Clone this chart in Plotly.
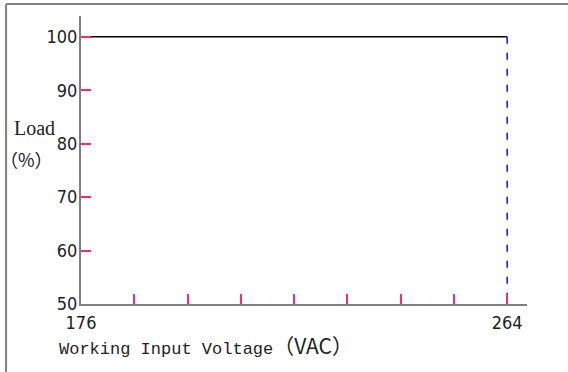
import plotly.graph_objects as go

# Data
voltage = [176, 264]
load = [100, 100]
limit_voltage = [264, 264]
limit_load = [100, 50]
x_tickvals = [176, 187, 198, 209, 220, 231, 242, 253, 264]
x_ticktext = ["176", "", "", "", "", "", "", "", "264"]
y_tickvals = [50, 60, 70, 80, 90, 100]
y_ticktext = ["50", "60", "70", "80", "90", "100"]

tick_font = dict(family="Liberation Sans Narrow, DejaVu Sans Condensed, Liberation Sans", size=18, color="#222222")

fig = go.Figure()
fig.add_trace(go.Scatter(x=voltage, y=load, mode="lines",
                         line=dict(color="#000000", width=1.5), showlegend=False, hoverinfo="skip"))
fig.add_trace(go.Scatter(x=limit_voltage, y=limit_load, mode="lines",
                         line=dict(color="#1010f0", width=1.5, dash="7px,9px"), showlegend=False, hoverinfo="skip"))

fig.update_xaxes(range=[176, 268.1], tickvals=x_tickvals, ticktext=x_ticktext,
                 ticks="inside", ticklen=10, tickwidth=1.5, tickcolor="#ff2a64",
                 showline=True, linecolor="#808080", linewidth=2,
                 showgrid=False, zeroline=False, tickfont=tick_font, ticklabelstandoff=1)
fig.update_yaxes(range=[50, 103.9], tickvals=y_tickvals, ticktext=y_ticktext,
                 ticks="inside", ticklen=10, tickwidth=1.5, tickcolor="#ff2a64",
                 showline=True, linecolor="#808080", linewidth=2,
                 showgrid=False, zeroline=False, tickfont=tick_font, ticklabelstandoff=-2)

fig.add_annotation(text="Load", xref="paper", yref="paper", x=-0.1547, y=0.612,
                   xanchor="left", yanchor="middle", showarrow=False,
                   font=dict(family="Liberation Serif", size=20, color="#222222"))
fig.add_annotation(text="（%）", xref="paper", yref="paper", x=-0.186, y=0.505,
                   xanchor="left", yanchor="middle", showarrow=False,
                   font=dict(family="Noto Sans CJK SC", size=18, color="#222222"))
fig.add_annotation(text="Working Input Voltage<span style='font-family:Noto Sans CJK SC;font-size:21px'>（VAC）</span>",
                   xref="paper", yref="paper", x=-0.0538, y=-0.142,
                   xanchor="left", yanchor="middle", showarrow=False,
                   font=dict(family="Liberation Mono", size=17, color="#222222"))

# outer frame (left and top edges)
fig.add_shape(type="line", xref="paper", yref="paper", x0=-0.168, x1=-0.168, y0=-0.3, y1=1.0417,
              line=dict(color="#808080", width=2))
fig.add_shape(type="line", xref="paper", yref="paper", x0=-0.168, x1=1.2, y0=1.0417, y1=1.0417,
              line=dict(color="#808080", width=2))

fig.update_layout(width=568, height=372, margin=dict(l=81, r=41, t=16, b=68),
                  plot_bgcolor="white", paper_bgcolor="white")

fig.write_html("out.html", config={"displayModeBar": False},
               post_script="document.body.style.margin='0px';")
